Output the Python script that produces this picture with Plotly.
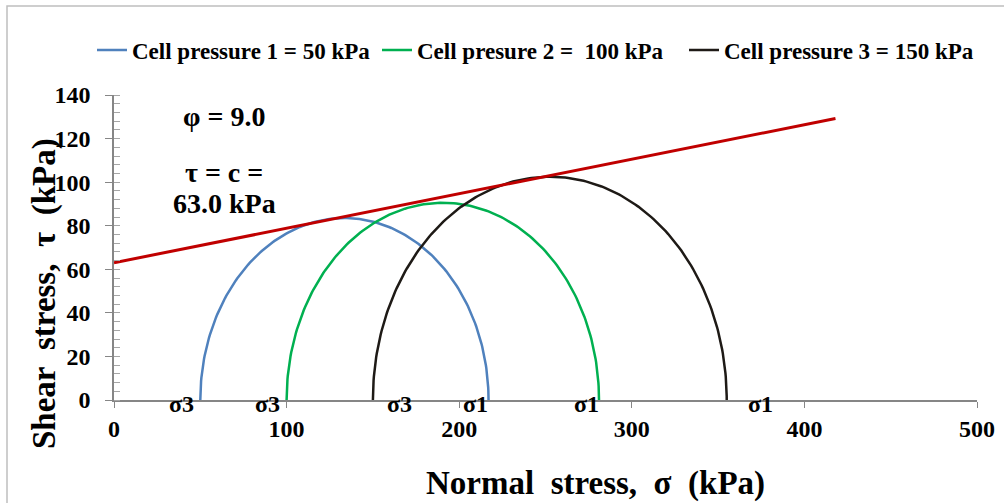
import numpy as np
import plotly.graph_objects as go

# ---- data ----
series_names = ["Cell pressure 1 = 50 kPa", "Cell presure 2 =  100 kPa", "Cell pressure 3 = 150 kPa"]
sigma3 = [50, 100, 150]          # kPa
sigma1 = [217, 281, 355]         # kPa
series_colors = ["#4F81BD", "#00B050", "#1E1A16"]

cohesion = 63.0                  # kPa
phi_deg = 9.0                    # degrees
envelope_x = [0, 418]            # kPa

x_ticks = [0, 100, 200, 300, 400, 500]
y_ticks = [0, 20, 40, 60, 80, 100, 120, 140]

FONT = "Liberation Serif"
NB = "\u00a0"

fig = go.Figure()

legend_ids = ["legend", "legend2", "legend3"]
legend_left_px = [92, 377, 684]

theta = np.linspace(np.pi, 0, 181)
for name, s3, s1, col, lid in zip(series_names, sigma3, sigma1, series_colors, legend_ids):
    c = (s1 + s3) / 2
    r = (s1 - s3) / 2
    fig.add_trace(go.Scatter(
        x=c + r * np.cos(theta), y=r * np.sin(theta),
        mode="lines", name=f"<b>{name.replace('  ', NB + ' ')}</b>",
        line=dict(color=col, width=2.5), legend=lid,
    ))

env_y = [cohesion + np.tan(np.radians(phi_deg)) * xv for xv in envelope_x]
fig.add_trace(go.Scatter(
    x=envelope_x, y=env_y, mode="lines", showlegend=False,
    line=dict(color="#C00000", width=3),
))

annotations = []
for s3, dx in zip(sigma3, [-19, -19, 27]):
    annotations.append(dict(x=s3, y=0, xref="x", yref="y", text="<b>σ3</b>", showarrow=False,
                            xshift=dx, yshift=-4, font=dict(family=FONT, size=24, color="black"),
                            yanchor="middle"))
for s1, dx in zip(sigma1, [-13, -13, 34]):
    annotations.append(dict(x=s1, y=0, xref="x", yref="y", text="<b>σ1</b>", showarrow=False,
                            xshift=dx, yshift=-4, font=dict(family=FONT, size=24, color="black"),
                            yanchor="middle"))

annotations += [
    dict(x=64, y=130, xref="x", yref="y", text=f"<b>φ = {phi_deg:.1f}</b>", showarrow=False,
         font=dict(family=FONT, size=28, color="black")),
    dict(x=64, y=104.5, xref="x", yref="y", text="<b>τ = c =</b>", showarrow=False,
         font=dict(family=FONT, size=28, color="black")),
    dict(x=64, y=90, xref="x", yref="y", text=f"<b>{cohesion:.1f} kPa</b>", showarrow=False,
         font=dict(family=FONT, size=28, color="black")),
]

gap = NB + " "
annotations.append(dict(
    x=(595 - 114) / 863, y=(400 - 483) / 305, xref="paper", yref="paper",
    text=f"<b>Normal{gap}stress,{gap}σ{gap}(kPa)</b>", showarrow=False,
    font=dict(family=FONT, size=33, color="black"), xanchor="center", yanchor="middle"))
annotations.append(dict(
    x=(44 - 114) / 863, y=(400 - 294) / 305, xref="paper", yref="paper",
    text=f"<b>Shear{gap}stress,{gap}τ{gap}(kPa)</b>", showarrow=False, textangle=-90,
    font=dict(family=FONT, size=33, color="black"), xanchor="center", yanchor="middle"))

legend_common = dict(orientation="h", xref="container", xanchor="left",
                     yref="container", y=1 - 50 / 503, yanchor="middle",
                     font=dict(family=FONT, size=23, color="black"),
                     itemwidth=30, bgcolor="rgba(0,0,0,0)")

fig.update_layout(
    width=1004, height=503,
    margin=dict(l=114, r=27, t=95, b=103),
    paper_bgcolor="white", plot_bgcolor="white",
    font=dict(family=FONT, color="black"),
    showlegend=True,
    annotations=annotations,
    shapes=[dict(type="rect", xref="paper", yref="paper",
                 x0=(7 - 114) / 863, x1=(1010 - 114) / 863,
                 y0=(400 - 520) / 305, y1=(400 - 6) / 305,
                 line=dict(color="#BFBFBF", width=1.5), fillcolor="rgba(0,0,0,0)", layer="below")],
)
for lid, px in zip(legend_ids, legend_left_px):
    fig.update_layout({lid: dict(legend_common, x=px / 1004)})

fig.update_xaxes(
    range=[0, 500], tickvals=x_ticks, ticktext=[f"<b>{v}</b>" for v in x_ticks],
    showgrid=False, zeroline=False, showline=True, linecolor="#868686", linewidth=1.5,
    ticks="outside", ticklen=6, tickcolor="#868686", automargin=False,
    tickfont=dict(family=FONT, size=24, color="black"), ticklabelstandoff=0,
)
fig.update_yaxes(
    range=[0, 140], tickvals=y_ticks, ticktext=[f"<b>{v}</b>" for v in y_ticks],
    showgrid=False, zeroline=False, showline=True, linecolor="#868686", linewidth=1.5,
    ticks="outside", ticklen=7, tickcolor="#868686", automargin=False,
    minor=dict(dtick=4, ticks="inside", ticklen=6, tickcolor="#A6A6A6", showgrid=False),
    tickfont=dict(family=FONT, size=24, color="black"), ticklabelstandoff=10,
)

fig.write_html("out.html", config={"displayModeBar": False},
               post_script="document.body.style.margin='0';")
